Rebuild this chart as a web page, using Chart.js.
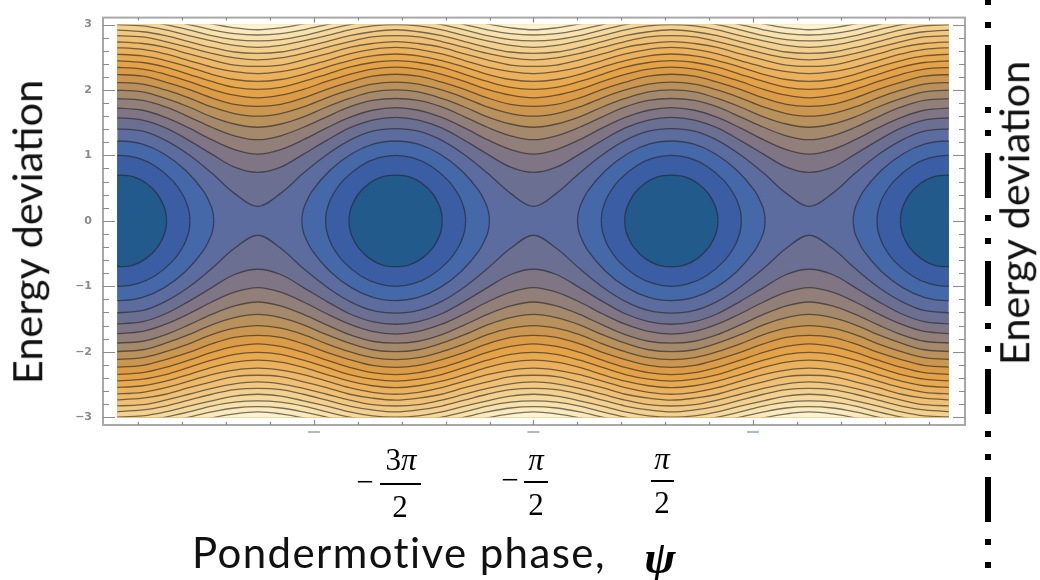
<!DOCTYPE html>
<html>
<head>
<meta charset="utf-8">
<title>Energy deviation vs pondermotive phase</title>
<script src="https://cdn.jsdelivr.net/npm/chart.js@4"></script>
<style>
  html, body { margin: 0; padding: 0; background: #fff; }
  #wrap { position: relative; width: 1040px; height: 580px; overflow: hidden; }
  canvas { position: absolute; left: 0; top: 0; }
  .label { position: absolute; white-space: nowrap; font-family: Lato, sans-serif; font-size: 41.5px; color: #111; line-height: 1; }
  .vert { transform: translate(-50%, -50%) rotate(-90deg); }
  .frac { position: absolute; font-family: "Liberation Serif", serif; font-size: 31px; color: #000; line-height: 1; transform: translateX(-50%); white-space: nowrap; }
  .frac i { font-style: italic; }
  .bar { position: absolute; height: 2px; background: #000; }
</style>
</head>
<body>
<div id="wrap">
  <canvas id="contourChart" width="1040" height="580"></canvas>
  <div class="label vert" style="left:27px;top:232px">Energy deviation</div>
  <div class="label vert" style="left:1014px;top:213px">Energy deviation</div>
  <div class="label" style="left:192px;top:531px;font-size:42px;letter-spacing:1.4px">Pondermotive phase,</div>
  <div class="frac" style="left:660px;top:534px;font-size:47px;font-weight:bold"><i>ψ</i></div>

  <div class="frac" style="left:365px;top:466px">−</div>
  <div class="frac" style="left:401px;top:444px"><span>3</span><i>π</i></div>
  <div class="bar" style="left:380px;top:483px;width:41px"></div>
  <div class="frac" style="left:400px;top:491px">2</div>

  <div class="frac" style="left:510px;top:464px">−</div>
  <div class="frac" style="left:536px;top:444px"><i>π</i></div>
  <div class="bar" style="left:524px;top:481px;width:24px"></div>
  <div class="frac" style="left:536px;top:489px">2</div>

  <div class="frac" style="left:662px;top:443px"><i>π</i></div>
  <div class="bar" style="left:651px;top:480px;width:23px"></div>
  <div class="frac" style="left:662px;top:487px">2</div>
</div>
<script>
// phase samples the open contours were read at, first and last run just past the picture
var phases = [-9.6,-8.90,-8.38,-7.85,-7.33,-6.81,-6.28,-5.76,-5.24,-4.71,-4.19,-3.67,-3.14,-2.62,-2.09,-1.57,-1.05,-0.52,0,0.52,1.05,1.57,2.09,2.62,3.14,3.67,4.19,4.71,5.24,5.76,6.28,6.81,7.33,7.85,8.38,8.90,9.6];

// range the coloured picture covers inside the frame
var phaseRange = [-9.48, 9.46];
var energyRange = [-3, 3];
// bands are filled a bit past that range so the blur has no pale edge
var fillLimit = 3.2;

// open contours above the islands, lowest first
var upperLines = [
  [1.41,1.37,1.23,1.01,0.73,0.42,0.22,0.42,0.73,1.01,1.23,1.37,1.41,1.37,1.23,1.01,0.73,0.42,0.22,0.42,0.73,1.01,1.23,1.37,1.41,1.37,1.23,1.01,0.73,0.42,0.22,0.42,0.73,1.01,1.23,1.37,1.41],
  [1.58,1.54,1.42,1.23,1.02,0.82,0.74,0.82,1.02,1.23,1.42,1.54,1.58,1.54,1.42,1.23,1.02,0.82,0.74,0.82,1.02,1.23,1.42,1.54,1.58,1.54,1.42,1.23,1.02,0.82,0.74,0.82,1.02,1.23,1.42,1.54,1.58],
  [1.73,1.69,1.58,1.42,1.24,1.09,1.02,1.09,1.24,1.42,1.58,1.69,1.73,1.69,1.58,1.42,1.24,1.09,1.02,1.09,1.24,1.42,1.58,1.69,1.73,1.69,1.58,1.42,1.24,1.09,1.02,1.09,1.24,1.42,1.58,1.69,1.73],
  [1.87,1.84,1.74,1.59,1.43,1.30,1.24,1.30,1.43,1.59,1.74,1.84,1.87,1.84,1.74,1.59,1.43,1.30,1.24,1.30,1.43,1.59,1.74,1.84,1.87,1.84,1.74,1.59,1.43,1.30,1.24,1.30,1.43,1.59,1.74,1.84,1.87],
  [2.00,1.97,1.87,1.74,1.59,1.48,1.43,1.48,1.59,1.74,1.87,1.97,2.00,1.97,1.87,1.74,1.59,1.48,1.43,1.48,1.59,1.74,1.87,1.97,2.00,1.97,1.87,1.74,1.59,1.48,1.43,1.48,1.59,1.74,1.87,1.97,2.00],
  [2.12,2.09,2.00,1.88,1.74,1.64,1.60,1.64,1.74,1.88,2.00,2.09,2.12,2.09,2.00,1.88,1.74,1.64,1.60,1.64,1.74,1.88,2.00,2.09,2.12,2.09,2.00,1.88,1.74,1.64,1.60,1.64,1.74,1.88,2.00,2.09,2.12],
  [2.24,2.21,2.12,2.01,1.88,1.78,1.75,1.78,1.88,2.01,2.12,2.21,2.24,2.21,2.12,2.01,1.88,1.78,1.75,1.78,1.88,2.01,2.12,2.21,2.24,2.21,2.12,2.01,1.88,1.78,1.75,1.78,1.88,2.01,2.12,2.21,2.24],
  [2.35,2.32,2.24,2.13,2.01,1.92,1.88,1.92,2.01,2.13,2.24,2.32,2.35,2.32,2.24,2.13,2.01,1.92,1.88,1.92,2.01,2.13,2.24,2.32,2.35,2.32,2.24,2.13,2.01,1.92,1.88,1.92,2.01,2.13,2.24,2.32,2.35],
  [2.45,2.42,2.35,2.24,2.13,2.04,2.01,2.04,2.13,2.24,2.35,2.42,2.45,2.42,2.35,2.24,2.13,2.04,2.01,2.04,2.13,2.24,2.35,2.42,2.45,2.42,2.35,2.24,2.13,2.04,2.01,2.04,2.13,2.24,2.35,2.42,2.45],
  [2.55,2.52,2.45,2.35,2.24,2.16,2.13,2.16,2.24,2.35,2.45,2.52,2.55,2.52,2.45,2.35,2.24,2.16,2.13,2.16,2.24,2.35,2.45,2.52,2.55,2.52,2.45,2.35,2.24,2.16,2.13,2.16,2.24,2.35,2.45,2.52,2.55],
  [2.65,2.62,2.55,2.45,2.35,2.28,2.25,2.28,2.35,2.45,2.55,2.62,2.65,2.62,2.55,2.45,2.35,2.28,2.25,2.28,2.35,2.45,2.55,2.62,2.65,2.62,2.55,2.45,2.35,2.28,2.25,2.28,2.35,2.45,2.55,2.62,2.65],
  [2.74,2.71,2.65,2.55,2.46,2.38,2.36,2.38,2.46,2.55,2.65,2.71,2.74,2.71,2.65,2.55,2.46,2.38,2.36,2.38,2.46,2.55,2.65,2.71,2.74,2.71,2.65,2.55,2.46,2.38,2.36,2.38,2.46,2.55,2.65,2.71,2.74],
  [2.83,2.81,2.74,2.65,2.56,2.49,2.46,2.49,2.56,2.65,2.74,2.81,2.83,2.81,2.74,2.65,2.56,2.49,2.46,2.49,2.56,2.65,2.74,2.81,2.83,2.81,2.74,2.65,2.56,2.49,2.46,2.49,2.56,2.65,2.74,2.81,2.83],
  [2.92,2.89,2.83,2.74,2.65,2.58,2.56,2.58,2.65,2.74,2.83,2.89,2.92,2.89,2.83,2.74,2.65,2.58,2.56,2.58,2.65,2.74,2.83,2.89,2.92,2.89,2.83,2.74,2.65,2.58,2.56,2.58,2.65,2.74,2.83,2.89,2.92],
  [3.00,2.98,2.92,2.83,2.75,2.68,2.65,2.68,2.75,2.83,2.92,2.98,3.00,2.98,2.92,2.83,2.75,2.68,2.65,2.68,2.75,2.83,2.92,2.98,3.00,2.98,2.92,2.83,2.75,2.68,2.65,2.68,2.75,2.83,2.92,2.98,3.00],
  [3.08,3.06,3.00,2.92,2.83,2.77,2.75,2.77,2.83,2.92,3.00,3.06,3.08,3.06,3.00,2.92,2.83,2.77,2.75,2.77,2.83,2.92,3.00,3.06,3.08,3.06,3.00,2.92,2.83,2.77,2.75,2.77,2.83,2.92,3.00,3.06,3.08],
  [3.16,3.14,3.08,3.00,2.92,2.86,2.84,2.86,2.92,3.00,3.08,3.14,3.16,3.14,3.08,3.00,2.92,2.86,2.84,2.86,2.92,3.00,3.08,3.14,3.16,3.14,3.08,3.00,2.92,2.86,2.84,2.86,2.92,3.00,3.08,3.14,3.16],
  [3.24,3.22,3.16,3.09,3.01,2.95,2.92,2.95,3.01,3.09,3.16,3.22,3.24,3.22,3.16,3.09,3.01,2.95,2.92,2.95,3.01,3.09,3.16,3.22,3.24,3.22,3.16,3.09,3.01,2.95,2.92,2.95,3.01,3.09,3.16,3.22,3.24]
];

// open contours below the islands, same order
var lowerLines = [
  [-1.41,-1.37,-1.23,-1.01,-0.73,-0.42,-0.22,-0.42,-0.73,-1.01,-1.23,-1.37,-1.41,-1.37,-1.23,-1.01,-0.73,-0.42,-0.22,-0.42,-0.73,-1.01,-1.23,-1.37,-1.41,-1.37,-1.23,-1.01,-0.73,-0.42,-0.22,-0.42,-0.73,-1.01,-1.23,-1.37,-1.41],
  [-1.58,-1.54,-1.42,-1.23,-1.02,-0.82,-0.74,-0.82,-1.02,-1.23,-1.42,-1.54,-1.58,-1.54,-1.42,-1.23,-1.02,-0.82,-0.74,-0.82,-1.02,-1.23,-1.42,-1.54,-1.58,-1.54,-1.42,-1.23,-1.02,-0.82,-0.74,-0.82,-1.02,-1.23,-1.42,-1.54,-1.58],
  [-1.73,-1.69,-1.58,-1.42,-1.24,-1.09,-1.02,-1.09,-1.24,-1.42,-1.58,-1.69,-1.73,-1.69,-1.58,-1.42,-1.24,-1.09,-1.02,-1.09,-1.24,-1.42,-1.58,-1.69,-1.73,-1.69,-1.58,-1.42,-1.24,-1.09,-1.02,-1.09,-1.24,-1.42,-1.58,-1.69,-1.73],
  [-1.87,-1.84,-1.74,-1.59,-1.43,-1.30,-1.24,-1.30,-1.43,-1.59,-1.74,-1.84,-1.87,-1.84,-1.74,-1.59,-1.43,-1.30,-1.24,-1.30,-1.43,-1.59,-1.74,-1.84,-1.87,-1.84,-1.74,-1.59,-1.43,-1.30,-1.24,-1.30,-1.43,-1.59,-1.74,-1.84,-1.87],
  [-2.00,-1.97,-1.87,-1.74,-1.59,-1.48,-1.43,-1.48,-1.59,-1.74,-1.87,-1.97,-2.00,-1.97,-1.87,-1.74,-1.59,-1.48,-1.43,-1.48,-1.59,-1.74,-1.87,-1.97,-2.00,-1.97,-1.87,-1.74,-1.59,-1.48,-1.43,-1.48,-1.59,-1.74,-1.87,-1.97,-2.00],
  [-2.12,-2.09,-2.00,-1.88,-1.74,-1.64,-1.60,-1.64,-1.74,-1.88,-2.00,-2.09,-2.12,-2.09,-2.00,-1.88,-1.74,-1.64,-1.60,-1.64,-1.74,-1.88,-2.00,-2.09,-2.12,-2.09,-2.00,-1.88,-1.74,-1.64,-1.60,-1.64,-1.74,-1.88,-2.00,-2.09,-2.12],
  [-2.24,-2.21,-2.12,-2.01,-1.88,-1.78,-1.75,-1.78,-1.88,-2.01,-2.12,-2.21,-2.24,-2.21,-2.12,-2.01,-1.88,-1.78,-1.75,-1.78,-1.88,-2.01,-2.12,-2.21,-2.24,-2.21,-2.12,-2.01,-1.88,-1.78,-1.75,-1.78,-1.88,-2.01,-2.12,-2.21,-2.24],
  [-2.35,-2.32,-2.24,-2.13,-2.01,-1.92,-1.88,-1.92,-2.01,-2.13,-2.24,-2.32,-2.35,-2.32,-2.24,-2.13,-2.01,-1.92,-1.88,-1.92,-2.01,-2.13,-2.24,-2.32,-2.35,-2.32,-2.24,-2.13,-2.01,-1.92,-1.88,-1.92,-2.01,-2.13,-2.24,-2.32,-2.35],
  [-2.45,-2.42,-2.35,-2.24,-2.13,-2.04,-2.01,-2.04,-2.13,-2.24,-2.35,-2.42,-2.45,-2.42,-2.35,-2.24,-2.13,-2.04,-2.01,-2.04,-2.13,-2.24,-2.35,-2.42,-2.45,-2.42,-2.35,-2.24,-2.13,-2.04,-2.01,-2.04,-2.13,-2.24,-2.35,-2.42,-2.45],
  [-2.55,-2.52,-2.45,-2.35,-2.24,-2.16,-2.13,-2.16,-2.24,-2.35,-2.45,-2.52,-2.55,-2.52,-2.45,-2.35,-2.24,-2.16,-2.13,-2.16,-2.24,-2.35,-2.45,-2.52,-2.55,-2.52,-2.45,-2.35,-2.24,-2.16,-2.13,-2.16,-2.24,-2.35,-2.45,-2.52,-2.55],
  [-2.65,-2.62,-2.55,-2.45,-2.35,-2.28,-2.25,-2.28,-2.35,-2.45,-2.55,-2.62,-2.65,-2.62,-2.55,-2.45,-2.35,-2.28,-2.25,-2.28,-2.35,-2.45,-2.55,-2.62,-2.65,-2.62,-2.55,-2.45,-2.35,-2.28,-2.25,-2.28,-2.35,-2.45,-2.55,-2.62,-2.65],
  [-2.74,-2.71,-2.65,-2.55,-2.46,-2.38,-2.36,-2.38,-2.46,-2.55,-2.65,-2.71,-2.74,-2.71,-2.65,-2.55,-2.46,-2.38,-2.36,-2.38,-2.46,-2.55,-2.65,-2.71,-2.74,-2.71,-2.65,-2.55,-2.46,-2.38,-2.36,-2.38,-2.46,-2.55,-2.65,-2.71,-2.74],
  [-2.83,-2.81,-2.74,-2.65,-2.56,-2.49,-2.46,-2.49,-2.56,-2.65,-2.74,-2.81,-2.83,-2.81,-2.74,-2.65,-2.56,-2.49,-2.46,-2.49,-2.56,-2.65,-2.74,-2.81,-2.83,-2.81,-2.74,-2.65,-2.56,-2.49,-2.46,-2.49,-2.56,-2.65,-2.74,-2.81,-2.83],
  [-2.92,-2.89,-2.83,-2.74,-2.65,-2.58,-2.56,-2.58,-2.65,-2.74,-2.83,-2.89,-2.92,-2.89,-2.83,-2.74,-2.65,-2.58,-2.56,-2.58,-2.65,-2.74,-2.83,-2.89,-2.92,-2.89,-2.83,-2.74,-2.65,-2.58,-2.56,-2.58,-2.65,-2.74,-2.83,-2.89,-2.92],
  [-3.00,-2.98,-2.92,-2.83,-2.75,-2.68,-2.65,-2.68,-2.75,-2.83,-2.92,-2.98,-3.00,-2.98,-2.92,-2.83,-2.75,-2.68,-2.65,-2.68,-2.75,-2.83,-2.92,-2.98,-3.00,-2.98,-2.92,-2.83,-2.75,-2.68,-2.65,-2.68,-2.75,-2.83,-2.92,-2.98,-3.00],
  [-3.08,-3.06,-3.00,-2.92,-2.83,-2.77,-2.75,-2.77,-2.83,-2.92,-3.00,-3.06,-3.08,-3.06,-3.00,-2.92,-2.83,-2.77,-2.75,-2.77,-2.83,-2.92,-3.00,-3.06,-3.08,-3.06,-3.00,-2.92,-2.83,-2.77,-2.75,-2.77,-2.83,-2.92,-3.00,-3.06,-3.08],
  [-3.16,-3.14,-3.08,-3.00,-2.92,-2.86,-2.84,-2.86,-2.92,-3.00,-3.08,-3.14,-3.16,-3.14,-3.08,-3.00,-2.92,-2.86,-2.84,-2.86,-2.92,-3.00,-3.08,-3.14,-3.16,-3.14,-3.08,-3.00,-2.92,-2.86,-2.84,-2.86,-2.92,-3.00,-3.08,-3.14,-3.16],
  [-3.24,-3.22,-3.16,-3.09,-3.01,-2.95,-2.92,-2.95,-3.01,-3.09,-3.16,-3.22,-3.24,-3.22,-3.16,-3.09,-3.01,-2.95,-2.92,-2.95,-3.01,-3.09,-3.16,-3.22,-3.24,-3.22,-3.16,-3.09,-3.01,-2.95,-2.92,-2.95,-3.01,-3.09,-3.16,-3.22,-3.24]
];

// closed contours round the dark centres, outermost first, null = gap between islands
var islandX = [
  [-9.92,-9.42,-8.92,-8.42,-7.92,-7.52,-7.34,-7.295,-7.283,-6.28,-5.277,-5.265,-5.22,-5.04,-4.64,-4.14,-3.64,-3.14,-2.64,-2.14,-1.64,-1.24,-1.06,-1.015,-1.003,0,1.003,1.015,1.06,1.24,1.64,2.14,2.64,3.14,3.64,4.14,4.64,5.04,5.22,5.265,5.277,6.28,7.283,7.295,7.34,7.52,7.92,8.42,8.92,9.42,9.92],
  [-9.82,-9.42,-9.02,-8.62,-8.22,-7.97,-7.86,-7.835,-7.825,-6.28,-4.735,-4.725,-4.70,-4.59,-4.34,-3.94,-3.54,-3.14,-2.74,-2.34,-1.94,-1.69,-1.58,-1.555,-1.545,0,1.545,1.555,1.58,1.69,1.94,2.34,2.74,3.14,3.54,3.94,4.34,4.59,4.70,4.725,4.735,6.28,7.825,7.835,7.86,7.97,8.22,8.62,9.02,9.42,9.82],
  [-9.72,-9.42,-9.12,-8.82,-8.57,-8.42,-8.38,-8.363,-8.359,-6.28,-4.201,-4.197,-4.18,-4.14,-3.99,-3.74,-3.44,-3.14,-2.84,-2.54,-2.29,-2.14,-2.10,-2.083,-2.079,0,2.079,2.083,2.10,2.14,2.29,2.54,2.84,3.14,3.44,3.74,3.99,4.14,4.18,4.197,4.201,6.28,8.359,8.363,8.38,8.42,8.57,8.82,9.12,9.42,9.72]
];
var islandUpper = [
  [1.175,1.22,1.175,1.025,0.77,0.457,0.219,0.10,0,null,0,0.10,0.219,0.457,0.77,1.025,1.175,1.22,1.175,1.025,0.77,0.457,0.219,0.10,0,null,0,0.10,0.219,0.457,0.77,1.025,1.175,1.22,1.175,1.025,0.77,0.457,0.219,0.10,0,null,0,0.10,0.219,0.457,0.77,1.025,1.175,1.22,1.175],
  [0.961,1.0,0.961,0.839,0.615,0.376,0.186,0.10,0,null,0,0.10,0.186,0.376,0.615,0.839,0.961,1.0,0.961,0.839,0.615,0.376,0.186,0.10,0,null,0,0.10,0.186,0.376,0.615,0.839,0.961,1.0,0.961,0.839,0.615,0.376,0.186,0.10,0,null,0,0.10,0.186,0.376,0.615,0.839,0.961,1.0,0.961],
  [0.676,0.70,0.676,0.574,0.41,0.226,0.135,0.06,0,null,0,0.06,0.135,0.226,0.41,0.574,0.676,0.70,0.676,0.574,0.41,0.226,0.135,0.06,0,null,0,0.06,0.135,0.226,0.41,0.574,0.676,0.70,0.676,0.574,0.41,0.226,0.135,0.06,0,null,0,0.06,0.135,0.226,0.41,0.574,0.676,0.70,0.676]
];
var islandLower = [
  [-1.175,-1.22,-1.175,-1.025,-0.77,-0.457,-0.219,-0.10,0,null,0,-0.10,-0.219,-0.457,-0.77,-1.025,-1.175,-1.22,-1.175,-1.025,-0.77,-0.457,-0.219,-0.10,0,null,0,-0.10,-0.219,-0.457,-0.77,-1.025,-1.175,-1.22,-1.175,-1.025,-0.77,-0.457,-0.219,-0.10,0,null,0,-0.10,-0.219,-0.457,-0.77,-1.025,-1.175,-1.22,-1.175],
  [-0.961,-1.0,-0.961,-0.839,-0.615,-0.376,-0.186,-0.10,0,null,0,-0.10,-0.186,-0.376,-0.615,-0.839,-0.961,-1.0,-0.961,-0.839,-0.615,-0.376,-0.186,-0.10,0,null,0,-0.10,-0.186,-0.376,-0.615,-0.839,-0.961,-1.0,-0.961,-0.839,-0.615,-0.376,-0.186,-0.10,0,null,0,-0.10,-0.186,-0.376,-0.615,-0.839,-0.961,-1.0,-0.961],
  [-0.676,-0.70,-0.676,-0.574,-0.41,-0.226,-0.135,-0.06,0,null,0,-0.06,-0.135,-0.226,-0.41,-0.574,-0.676,-0.70,-0.676,-0.574,-0.41,-0.226,-0.135,-0.06,0,null,0,-0.06,-0.135,-0.226,-0.41,-0.574,-0.676,-0.70,-0.676,-0.574,-0.41,-0.226,-0.135,-0.06,0,null,0,-0.06,-0.135,-0.226,-0.41,-0.574,-0.676,-0.70,-0.676]
];

// band colours, same order as the contours
var separatrixColor = '#5c6c9e';
var islandColors = ['#4568a8', '#3b5da3', '#235a8c'];
var openColors = ['#6b6f92','#807585','#927f79','#a5896c','#b9915c','#cb964f','#dc9c47','#e5a246','#e9a94f','#ecb15c','#eeb968','#f0c175','#f2c982','#f4d18f','#f6d99d','#f9e2ac','#fbeabd','#fdf3cf'];

var yTickValues = [-3, -2, -1, 0, 1, 2, 3];
var yMinorTicks = [-2.8,-2.6,-2.4,-2.2,-1.8,-1.6,-1.4,-1.2,-0.8,-0.6,-0.4,-0.2,0.2,0.4,0.6,0.8,1.2,1.4,1.6,1.8,2.2,2.4,2.6,2.8];
var xMajorTicks = [-5, 0, 5];
var xMinorTicks = [-9,-8,-7,-6,-4,-3,-2,-1,1,2,3,4,6,7,8,9];

var lineColor = 'rgba(35,35,40,0.62)';

function contour(xs, ys, fillColor, fillTo) {
    return {
        data: xs.map((x, i) => ({ x: x, y: ys[i] })),
        borderColor: lineColor,
        borderWidth: 1.3,
        pointRadius: 0,
        tension: 0.35,
        backgroundColor: fillColor,
        fill: { value: fillTo }
    };
}

// painted in this order, each band laid over the one before it
var painted = [];
painted.push({
    data: [{ x: phases[0], y: fillLimit }, { x: phases[phases.length - 1], y: fillLimit }],
    borderWidth: 0,
    pointRadius: 0,
    backgroundColor: separatrixColor,
    fill: { value: -fillLimit }
});
upperLines.forEach((ys, i) => painted.push(contour(phases, ys, openColors[i], fillLimit)));
lowerLines.forEach((ys, i) => painted.push(contour(phases, ys, openColors[i], -fillLimit)));
islandX.forEach((xs, i) => {
    painted.push(contour(xs, islandUpper[i], islandColors[i], 0));
    painted.push(contour(xs, islandLower[i], islandColors[i], 0));
});

// chart.js draws dataset 0 last
var datasets = painted.slice().reverse();

function hTick(ctx, scale, xStart, value, len) {
    var y = Math.round(scale.getPixelForValue(value)) + 0.5;
    ctx.moveTo(xStart, y);
    ctx.lineTo(xStart + len, y);
}

function vTick(ctx, scale, yStart, value, len) {
    var x = Math.round(scale.getPixelForValue(value)) + 0.5;
    ctx.moveTo(x, yStart);
    ctx.lineTo(x, yStart + len);
}

var softContours = {
    id: 'softContours',
    beforeDatasetsDraw(chart) {
        var ctx = chart.ctx, x = chart.scales.x, y = chart.scales.y;
        var left = x.getPixelForValue(phaseRange[0]), right = x.getPixelForValue(phaseRange[1]);
        var top = y.getPixelForValue(energyRange[1]), bottom = y.getPixelForValue(energyRange[0]);
        ctx.save();
        ctx.beginPath();
        ctx.rect(left, top, right - left, bottom - top);
        ctx.clip();
        ctx.filter = 'blur(0.6px)';
    },
    afterDatasetsDraw(chart) {
        chart.ctx.restore();
    }
};

var frameAndTicks = {
    id: 'frameAndTicks',
    afterDraw(chart) {
        var ctx = chart.ctx, a = chart.chartArea, x = chart.scales.x, y = chart.scales.y;
        ctx.save();

        // Mathematica style frame, ticks point inward
        ctx.strokeStyle = '#a8a8a8';
        ctx.lineWidth = 2;
        ctx.strokeRect(a.left, a.top, a.right - a.left, a.bottom - a.top);

        ctx.strokeStyle = '#8c8c8c';
        ctx.lineWidth = 1.2;
        ctx.beginPath();
        yTickValues.forEach(v => { hTick(ctx, y, a.left, v, 12); hTick(ctx, y, a.right, v, -12); });
        yMinorTicks.forEach(v => { hTick(ctx, y, a.left, v, 6); hTick(ctx, y, a.right, v, -6); });
        xMajorTicks.forEach(v => { vTick(ctx, x, a.top, v, 5); vTick(ctx, x, a.bottom, v, -5); });
        xMinorTicks.forEach(v => { vTick(ctx, x, a.top, v, 3); vTick(ctx, x, a.bottom, v, -3); });
        ctx.stroke();

        // tops of the old tick labels, the rest got painted over
        ctx.strokeStyle = '#98a2b6';
        ctx.lineWidth = 1.5;
        ctx.beginPath();
        xMajorTicks.forEach(v => {
            var px = x.getPixelForValue(v);
            ctx.moveTo(px - 6, 432);
            ctx.lineTo(px + 6, 432);
        });
        ctx.stroke();

        // dash-dot divider on the right
        ctx.strokeStyle = '#000';
        ctx.lineWidth = 6;
        ctx.setLineDash([45, 17, 6, 17, 6, 17]);
        ctx.lineDashOffset = -45;
        ctx.beginPath();
        ctx.moveTo(988, 0);
        ctx.lineTo(988, 580);
        ctx.stroke();

        ctx.restore();
    }
};

var ctx = document.getElementById('contourChart').getContext('2d');

var contourChart = new Chart(ctx, {
    type: 'line',
    data: { datasets: datasets },
    options: {
        responsive: false,
        animation: false,
        events: [],
        layout: { padding: { top: 9, right: 75, left: 0, bottom: 0 } },
        plugins: { legend: { display: false }, tooltip: { enabled: false } },
        scales: {
            x: {
                type: 'linear',
                min: -9.806,
                max: 9.83,
                grid: { display: false, drawTicks: false },
                border: { display: false },
                ticks: { display: false },
                afterFit: scale => { scale.height = 155; }
            },
            y: {
                type: 'linear',
                min: -3.12,
                max: 3.106,
                grid: { display: false, drawTicks: false },
                border: { display: false },
                afterBuildTicks: scale => { scale.ticks = yTickValues.map(v => ({ value: v })); },
                ticks: {
                    autoSkip: false,
                    padding: 11,
                    color: '#8a8a8a',
                    font: { family: 'DejaVu Sans', size: 11, weight: 'bold' },
                    callback: v => (v < 0 ? '−' + (-v) : String(v))
                },
                afterFit: scale => { scale.width = 103; }
            }
        }
    },
    plugins: [softContours, frameAndTicks]
});
</script>
</body>
</html>
